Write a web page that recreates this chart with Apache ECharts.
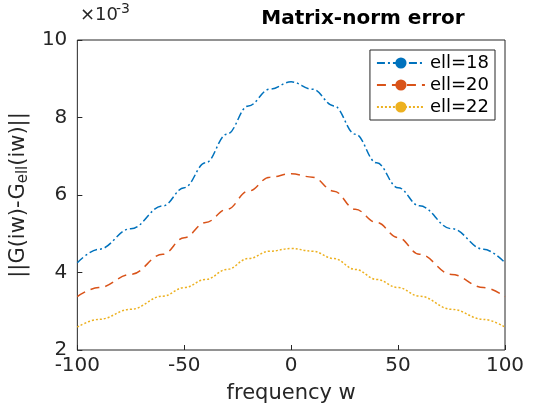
<!DOCTYPE html>
<html>
<head>
<meta charset="utf-8">
<script src="https://cdn.jsdelivr.net/npm/echarts@6/dist/echarts.min.js"></script>
<style>html,body{margin:0;padding:0;background:#fff}#chart{width:560px;height:420px}</style>
</head>
<body>
<div id="chart"></div>
<script>
// frequency points (symmetric about 0)
let freq = [-100, -90, -75, -60, -50, -40, -30, -20, -10, 0, 10, 20, 30, 40, 50, 60, 75, 90, 100];
// values in units of 1e-3
let ell18 = [4.25, 4.6, 5.13, 5.72, 6.19, 6.83, 7.57, 8.3, 8.73, 8.92, 8.73, 8.3, 7.57, 6.83, 6.19, 5.72, 5.13, 4.6, 4.25];
let ell20 = [3.38, 3.61, 3.95, 4.47, 4.9, 5.29, 5.63, 6.1, 6.46, 6.55, 6.46, 6.1, 5.63, 5.29, 4.9, 4.47, 3.95, 3.61, 3.38];
let ell22 = [2.59, 2.79, 3.05, 3.39, 3.61, 3.82, 4.08, 4.36, 4.55, 4.62, 4.55, 4.36, 4.08, 3.82, 3.61, 3.39, 3.05, 2.79, 2.59];
let xTicks = [-100, -50, 0, 50, 100];
let yTicks = [2, 4, 6, 8, 10];

function pairs(ys) {
    return freq.map(function (x, i) { return [x, ys[i]]; });
}

let font = 'DejaVu Sans';
let myChart = echarts.init(document.getElementById('chart'));
let option = {
    animation: false,
    textStyle: {fontFamily: font},
    title: {
        text: 'Matrix-norm error',
        left: 358, top: 4, textAlign: 'center',
        textStyle: {fontSize: 20, fontWeight: 'bold', color: '#000', fontFamily: font}
    },
    graphic: [{
        type: 'text', left: 80, top: 6,
        style: {text: '×10', fill: '#262626', font: '18px DejaVu Sans'}
    }, {
        type: 'text', left: 116, top: 2,
        style: {text: '-3', fill: '#262626', font: '14px DejaVu Sans'}
    }],
    grid: {left: 75, right: 55, top: 40, bottom: 70, show: true, borderColor: '#262626', borderWidth: 1},
    legend: {
        right: 65, top: 50, orient: 'vertical',
        backgroundColor: '#fff', borderColor: '#262626', borderWidth: 1,
        padding: [4, 6, 4, 6], itemGap: 4, itemWidth: 48, itemHeight: 14,
        textStyle: {fontSize: 18, color: '#000', fontFamily: font},
        data: ['ell=18', 'ell=20', 'ell=22']
    },
    xAxis: {
        type: 'value', min: -100, max: 100, interval: 50,
        name: 'frequency w', nameLocation: 'middle', nameGap: 33,
        nameTextStyle: {fontSize: 21, color: '#262626'},
        axisLine: {show: false, onZero: false},
        axisTick: {inside: true, length: 5, lineStyle: {color: '#262626'}},
        axisLabel: {fontSize: 20, color: '#262626', margin: 6,
            formatter: function (v) { return xTicks.indexOf(v) >= 0 ? String(v) : ''; }},
        splitLine: {show: false}
    },
    yAxis: {
        type: 'value', min: 2, max: 10, interval: 2,
        name: '{a|||G(iw)-G}{s|ell}{a|(iw)||}', nameLocation: 'middle', nameGap: 40, nameRotate: 90,
        nameTextStyle: {rich: {
            a: {fontSize: 21, color: '#262626', fontFamily: font},
            s: {fontSize: 15, color: '#262626', fontFamily: font, verticalAlign: 'bottom', padding: [10, 0, 0, 0]}
        }},
        axisLine: {show: false, onZero: false},
        axisTick: {inside: true, length: 5, lineStyle: {color: '#262626'}},
        axisLabel: {fontSize: 20, color: '#262626', margin: 10,
            formatter: function (v) { return yTicks.indexOf(v) >= 0 ? String(v) : ''; }},
        splitLine: {show: false}
    },
    series: [
        {name: 'ell=18', type: 'line', smooth: 0.4, smoothMonotone: 'x', symbol: 'none', data: pairs(ell18),
            itemStyle: {color: '#0072BD'}, lineStyle: {color: '#0072BD', width: 1.5, type: [8, 3, 2, 3]}},
        {name: 'ell=20', type: 'line', smooth: 0.4, smoothMonotone: 'x', symbol: 'none', data: pairs(ell20),
            itemStyle: {color: '#D95319'}, lineStyle: {color: '#D95319', width: 1.5, type: [9, 6]}},
        {name: 'ell=22', type: 'line', smooth: 0.4, smoothMonotone: 'x', symbol: 'none', data: pairs(ell22),
            itemStyle: {color: '#EDB120'}, lineStyle: {color: '#EDB120', width: 1.5, type: [2, 2]}}
    ]
};
myChart.setOption(option);
</script>
</body>
</html>
